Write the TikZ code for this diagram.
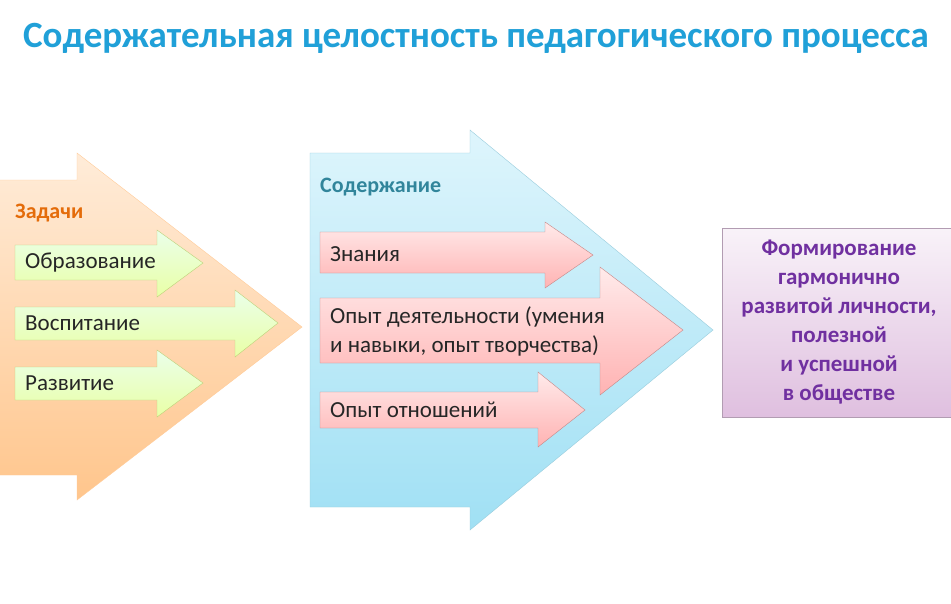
\documentclass[tikz,border=0pt]{standalone}
\usepackage{fontspec}
\setmainfont{Carlito}
\definecolor{bluetop}{RGB}{222,245,252}
\definecolor{bluebot}{RGB}{160,224,244}
\begin{document}
\begin{tikzpicture}[x=1pt,y=-1pt,
  orangeA/.style={top color=orange!15!white, bottom color=orange!45!white, draw=orange!40},
  blueA/.style={top color=bluetop, bottom color=bluebot, draw=bluebot!80!gray},
  greenA/.style={top color=green!8!white, bottom color=lime!35!white, draw=lime!50!gray!70},
  pinkA/.style={top color=red!8!white, bottom color=red!30!white, draw=red!35!gray!70},
  lbl/.style={anchor=west, font=\fontsize{23}{29}\selectfont, text=black!85, inner sep=0},
  head/.style={anchor=west, font=\bfseries\fontsize{22}{26}\selectfont, inner sep=0}]
\useasboundingbox (0,0) rectangle (951,603);
\fill[white] (0,0) rectangle (951,603);
\node[font=\bfseries\fontsize{37}{40}\selectfont, text={rgb,255:red,32;green,160;blue,216}] (title) at (476,38) {Содержательная целостность педагогического процесса};
% orange
\path[orangeA] (-1,180) -- (77,180) -- (77,153) -- (302,327) -- (77,500) -- (77,475) -- (-1,475) -- cycle;
\node[head, text={rgb,255:red,228;green,108;blue,10}] (zad) at (15,213) {Задачи};
\path[greenA] (15,245) -- (157,245) -- (157,230) -- (203,263) -- (157,297) -- (157,280) -- (15,280) -- cycle;
\node[lbl] (obr) at (25,263) {Образование};
\path[greenA] (15,307) -- (235,307) -- (235,290) -- (278,323) -- (235,357) -- (235,340) -- (15,340) -- cycle;
\node[lbl] (vos) at (25,323) {Воспитание};
\path[greenA] (15,367) -- (157,367) -- (157,350) -- (203,383) -- (157,417) -- (157,400) -- (15,400) -- cycle;
\node[lbl] (raz) at (25,383) {Развитие};
% blue
\path[blueA] (310,153) -- (470,153) -- (470,130) -- (713,330) -- (470,530) -- (470,507) -- (310,507) -- cycle;
\node[head, text={rgb,255:red,49;green,133;blue,155}] (sod) at (320,187) {Содержание};
\path[pinkA] (320,232) -- (545,232) -- (545,222) -- (593,255) -- (545,288) -- (545,273) -- (320,273) -- cycle;
\node[lbl] (zn) at (330,254) {Знания};
\path[pinkA] (320,298) -- (600,298) -- (600,267) -- (683,330) -- (600,395) -- (600,363) -- (320,363) -- cycle;
\node[lbl, align=left] (op) at (330,331) {Опыт деятельности (умения\\и навыки, опыт творчества)};
\path[pinkA] (320,392) -- (538,392) -- (538,372) -- (585,410) -- (538,447) -- (538,428) -- (320,428) -- cycle;
\node[lbl] (ot) at (330,410) {Опыт отношений};
% purple box
\path[top color=violet!5!white, bottom color=violet!25!white, draw=violet!30!gray!60] (722,228) rectangle (955,417);
\node[align=center, font=\bfseries\fontsize{23}{29}\selectfont, text={rgb,255:red,112;green,48;blue,160}] (res) at (839,322) {Формирование\\гармонично\\развитой личности,\\полезной\\и успешной\\в обществе};
\end{tikzpicture}
\end{document}
